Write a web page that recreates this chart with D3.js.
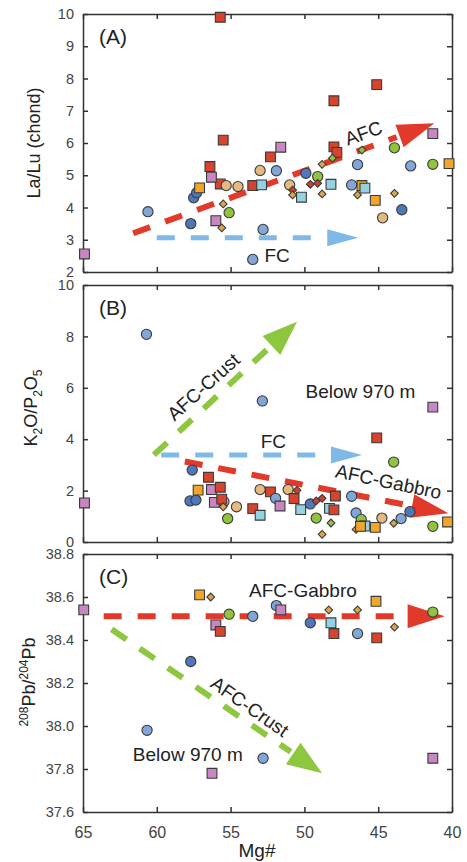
<!DOCTYPE html>
<html>
<head>
<meta charset="utf-8">
<script src="https://cdn.jsdelivr.net/npm/d3@7"></script>
<style>
body { margin: 0; background: #fff; }
svg { display: block; font-family: "Liberation Sans", Arial, sans-serif; }
</style>
</head>
<body>
<script>
// Mg# axis, shared by the three panels
var mgTicks = [65, 60, 55, 50, 45, 40];
var ticksA = [2, 3, 4, 5, 6, 7, 8, 9, 10];
var ticksB = [0, 2, 4, 6, 8, 10];
var ticksC = [37.6, 37.8, 38.0, 38.2, 38.4, 38.6, 38.8];

// point types: rs red sq, ps pink sq, os orange sq, cs cyan sq,
// bc blue circle, dc dark blue circle, tc tan circle, gc green circle,
// od orange diamond, rd red diamond, gd green diamond
var pointsA = [
	[55.7, 9.9, "rs"], [48.0, 7.31, "rs"], [45.1, 7.81, "rs"], [41.3, 6.29, "ps"],
	[55.5, 6.09, "rs"], [51.6, 5.87, "ps"], [52.3, 5.57, "rs"], [48.0, 5.88, "rs"],
	[47.8, 5.71, "rs"], [43.9, 5.85, "gc"], [46.1, 5.78, "gd"], [48.1, 5.53, "gd"],
	[48.8, 5.34, "od"], [46.4, 5.33, "bc"], [42.8, 5.29, "bc"], [41.3, 5.34, "gc"],
	[40.2, 5.36, "os"], [56.4, 5.27, "rs"], [57.5, 4.30, "dc"], [57.3, 4.46, "dc"],
	[57.1, 4.61, "os"], [55.7, 4.73, "rs"], [56.3, 4.94, "ps"], [55.3, 4.68, "tc"],
	[54.5, 4.65, "tc"], [53.5, 4.68, "rs"], [52.9, 4.70, "cs"], [53.0, 5.15, "tc"],
	[51.9, 5.14, "bc"], [51.0, 4.70, "tc"], [50.8, 4.54, "rd"], [50.8, 4.39, "od"],
	[50.2, 4.32, "cs"], [49.9, 5.06, "dc"], [49.1, 4.96, "gc"], [49.6, 4.72, "rd"],
	[49.1, 4.75, "rd"], [48.8, 4.42, "od"], [48.2, 4.72, "cs"], [46.8, 4.70, "bc"],
	[46.1, 4.68, "os"], [45.9, 4.60, "cs"], [46.4, 4.39, "od"], [45.2, 4.22, "os"],
	[43.9, 4.44, "od"], [43.4, 3.93, "dc"], [44.7, 3.68, "tc"], [60.6, 3.87, "bc"],
	[55.1, 3.84, "gc"], [55.5, 4.11, "od"], [56.0, 3.59, "ps"], [55.6, 3.37, "od"],
	[57.7, 3.50, "dc"], [52.8, 3.32, "bc"], [53.5, 2.39, "bc"], [64.9, 2.56, "ps"]
];

var pointsB = [
	[60.7, 8.08, "bc"], [52.85, 5.49, "bc"], [41.3, 5.25, "ps"], [45.1, 4.05, "rs"],
	[43.95, 3.11, "gc"], [64.9, 1.52, "ps"], [57.6, 2.80, "dc"], [57.75, 1.60, "dc"],
	[57.35, 1.63, "dc"], [57.2, 2.02, "os"], [56.5, 2.52, "rs"], [56.3, 2.04, "ps"],
	[55.7, 2.13, "rs"], [56.1, 1.54, "ps"], [55.45, 1.57, "tc"], [55.6, 1.67, "rs"],
	[55.5, 1.37, "od"], [54.6, 1.37, "tc"], [55.2, 0.91, "gc"], [53.5, 1.30, "rs"],
	[53.0, 1.04, "cs"], [53.0, 2.04, "tc"], [52.3, 1.95, "rs"], [51.95, 1.70, "bc"],
	[51.65, 1.40, "ps"], [51.1, 2.04, "tc"], [50.5, 2.01, "rd"], [50.7, 1.69, "rs"],
	[50.25, 1.26, "cs"], [49.6, 1.48, "dc"], [49.2, 1.60, "rd"], [48.8, 1.70, "rd"],
	[49.2, 0.93, "gc"], [48.8, 0.30, "od"], [48.2, 0.74, "gd"], [48.3, 1.31, "cs"],
	[48.0, 1.25, "rs"], [47.9, 1.79, "rs"], [46.8, 1.78, "bc"], [46.5, 1.13, "bc"],
	[46.15, 0.88, "gc"], [46.5, 0.49, "od"], [45.9, 0.62, "cs"], [46.2, 0.61, "os"],
	[45.2, 0.57, "os"], [44.75, 0.93, "tc"], [43.95, 0.73, "od"], [43.45, 0.91, "bc"],
	[42.85, 1.18, "dc"], [41.3, 0.61, "gc"], [40.3, 0.78, "os"]
];

var pointsC = [
	[64.95, 38.54, "ps"], [57.1, 38.61, "os"], [56.35, 38.60, "od"], [55.1, 38.52, "gc"],
	[53.5, 38.51, "bc"], [56.0, 38.47, "ps"], [55.7, 38.44, "rs"], [51.9, 38.56, "bc"],
	[51.6, 38.54, "ps"], [49.6, 38.48, "dc"], [48.35, 38.54, "od"], [48.2, 38.48, "cs"],
	[48.0, 38.43, "rs"], [46.4, 38.54, "od"], [46.4, 38.43, "bc"], [45.15, 38.58, "os"],
	[45.1, 38.41, "rs"], [43.9, 38.46, "od"], [41.3, 38.53, "gc"], [57.7, 38.30, "dc"],
	[60.66, 37.98, "bc"], [52.8, 37.85, "bc"], [56.26, 37.78, "ps"], [41.3, 37.85, "ps"]
];

// trend arrows, [Mg#, value] from tail to tip
var arrowsA = [
	{kind: "blue", from: [60.0, 3.06], to: [46.35, 3.06]},
	{kind: "red", from: [61.6, 3.2], to: [41.2, 6.61]}
];
var arrowsB = [
	{kind: "green", from: [60.2, 3.39], to: [50.5, 8.57]},
	{kind: "blue", from: [59.7, 3.39], to: [46.1, 3.39]},
	{kind: "red", from: [58.1, 3.13], to: [40.25, 1.12]}
];
var arrowsC = [
	{kind: "red", from: [63.6, 38.51], to: [40.5, 38.51]},
	{kind: "green", from: [63.06, 38.45], to: [48.8, 37.78]}
];

// annotations: text, Mg#, value, rotation
var labelsA = [["AFC", 46.0, 6.31, -20], ["FC", 51.85, 2.53, 0]];
var labelsB = [["AFC-Crust", 56.85, 6.04, -42], ["FC", 52.1, 3.90, 0],
	["Below 970 m", 46.2, 5.85, 0], ["AFC-Gabbro", 44.3, 2.35, 12]];
var labelsC = [["AFC-Gabbro", 50.1, 38.63, 0], ["AFC-Crust", 53.7, 38.09, 35],
	["Below 970 m", 57.9, 37.87, 0]];

var styles = {
	rs: {shape: "square", fill: "#d8432e"},
	ps: {shape: "square", fill: "#c886c2"},
	os: {shape: "square", fill: "#f0a52b"},
	cs: {shape: "square", fill: "#92d2e2"},
	bc: {shape: "circle", fill: "#82a6d8"},
	dc: {shape: "circle", fill: "#4f77ba"},
	tc: {shape: "circle", fill: "#e3ba80"},
	gc: {shape: "circle", fill: "#90c43c"},
	od: {shape: "diamond", fill: "#dca64a"},
	rd: {shape: "diamond", fill: "#c8442f"},
	gd: {shape: "diamond", fill: "#90c43c"}
};
var arrowStyles = {
	red: {color: "#e23a2a", width: 6, head: 37, half: 12},
	blue: {color: "#7eb9e8", width: 5, head: 31, half: 8.5},
	green: {color: "#8dc63f", width: 6, head: 35, half: 13}
};

var width = 467, height = 862;
var x = d3.scaleLinear().domain([65, 40]).range([83, 452]);

var svg = d3.select("body").append("svg")
	.attr("width", width)
	.attr("height", height);

function drawPanel(top, bottom, domain, ticks, fmt, points, arrows, labels, tag, showX) {
	var y = d3.scaleLinear().domain(domain).range([bottom, top]);
	var g = svg.append("g");

	// axes with inward ticks on all four sides
	var axes = [
		[d3.axisBottom(x).tickValues(mgTicks).tickSize(-5).tickSizeOuter(0).tickPadding(15)
			.tickFormat(showX ? d3.format("d") : ""), "translate(0," + bottom + ")", 16],
		[d3.axisTop(x).tickValues(mgTicks).tickSize(-5).tickSizeOuter(0).tickFormat(""), "translate(0," + top + ")", 15],
		[d3.axisLeft(y).tickValues(ticks).tickSize(-5).tickSizeOuter(0).tickPadding(9).tickFormat(fmt), "translate(83,0)", 14.5],
		[d3.axisRight(y).tickValues(ticks).tickSize(-5).tickSizeOuter(0).tickFormat(""), "translate(452,0)", 15]
	];
	axes.forEach(function(a) {
		var ax = g.append("g").attr("transform", a[1]).call(a[0]);
		ax.attr("font-family", null).attr("font-size", a[2]);
		ax.selectAll("path, line").attr("stroke", "#333").attr("stroke-width", 1.5);
		ax.selectAll("text").attr("fill", "#444");
	});

	// arrows drawn under the points
	arrows.forEach(function(a) {
		var st = arrowStyles[a.kind];
		var x0 = x(a.from[0]), y0 = y(a.from[1]), x1 = x(a.to[0]), y1 = y(a.to[1]);
		var dx = x1 - x0, dy = y1 - y0, len = Math.sqrt(dx * dx + dy * dy);
		var ux = dx / len, uy = dy / len;
		var bx = x1 - ux * st.head, by = y1 - uy * st.head;
		g.append("line")
			.attr("x1", x0).attr("y1", y0)
			.attr("x2", bx - ux * 3).attr("y2", by - uy * 3)
			.attr("stroke", st.color)
			.attr("stroke-width", st.width)
			.attr("stroke-dasharray", "18,16");
		g.append("path")
			.attr("d", "M" + x1 + "," + y1 +
				"L" + (bx - uy * st.half) + "," + (by + ux * st.half) +
				"L" + (bx + uy * st.half) + "," + (by - ux * st.half) + "Z")
			.attr("fill", st.color);
	});

	g.selectAll(".pt")
		.data(points)
		.enter().append("path")
		.attr("class", "pt")
		.attr("d", function(d) {
			var s = styles[d[2]].shape;
			if(s == "circle") return d3.symbol(d3.symbolCircle, 82)();
			if(s == "square") return d3.symbol(d3.symbolSquare, 96)();
			return d3.symbol(d3.symbolSquare, 30)();
		})
		.attr("transform", function(d) {
			var t = "translate(" + x(d[0]) + "," + y(d[1]) + ")";
			if(styles[d[2]].shape == "diamond") t += " rotate(45)";
			return t;
		})
		.attr("fill", function(d) { return styles[d[2]].fill; })
		.attr("stroke", "#3a3a3a")
		.attr("stroke-width", 1.1);

	labels.forEach(function(l) {
		g.append("text")
			.attr("transform", "translate(" + x(l[1]) + "," + y(l[2]) + ") rotate(" + l[3] + ")")
			.attr("text-anchor", "middle")
			.attr("dy", "0.35em")
			.attr("font-size", 19)
			.attr("fill", "#222")
			.text(l[0]);
	});

	g.append("text")
		.attr("x", 99)
		.attr("y", top + 30)
		.attr("font-size", 21)
		.attr("fill", "#222")
		.text(tag);

	return g;
}

drawPanel(14, 272, [2, 10], ticksA, d3.format("d"), pointsA, arrowsA, labelsA, "(A)", false);
drawPanel(285, 542, [0, 10], ticksB, d3.format("d"), pointsB, arrowsB, labelsB, "(B)", false);
drawPanel(554, 812, [37.6, 38.8], ticksC, d3.format(".1f"), pointsC, arrowsC, labelsC, "(C)", true);

// y axis titles
svg.append("text")
	.attr("transform", "translate(40,143) rotate(-90)")
	.attr("text-anchor", "middle")
	.attr("font-size", 18)
	.attr("fill", "#222")
	.text("La/Lu (chond)");

var tB = svg.append("text")
	.attr("transform", "translate(37,408) rotate(-90)")
	.attr("text-anchor", "middle")
	.attr("font-size", 18)
	.attr("fill", "#222");
tB.append("tspan").text("K");
tB.append("tspan").attr("font-size", 12).attr("dy", 5).text("2");
tB.append("tspan").attr("dy", -5).text("O/P");
tB.append("tspan").attr("font-size", 12).attr("dy", 5).text("2");
tB.append("tspan").attr("dy", -5).text("O");
tB.append("tspan").attr("font-size", 12).attr("dy", 5).text("5");

var tC = svg.append("text")
	.attr("transform", "translate(35,682) rotate(-90)")
	.attr("text-anchor", "middle")
	.attr("font-size", 18)
	.attr("fill", "#222");
tC.append("tspan").attr("font-size", 12).attr("dy", -7).text("208");
tC.append("tspan").attr("dy", 7).text("Pb/");
tC.append("tspan").attr("font-size", 12).attr("dy", -7).text("204");
tC.append("tspan").attr("dy", 7).text("Pb");

// x axis title
svg.append("text")
	.attr("x", 257)
	.attr("y", 857)
	.attr("text-anchor", "middle")
	.attr("font-size", 19)
	.attr("fill", "#222")
	.text("Mg#");
</script>
</body>
</html>
